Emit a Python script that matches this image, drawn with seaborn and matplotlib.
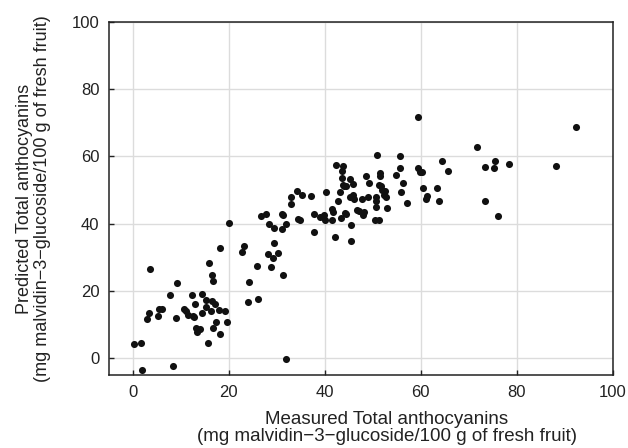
import matplotlib
matplotlib.use('Agg')
import matplotlib.pyplot as plt
import seaborn as sns
import pandas as pd

# measured vs predicted total anthocyanins
measured = [0.25, 1.7, 1.9, 3.6, 3.3, 3.0, 5.3, 5.5, 6.2, 7.7, 8.5, 9.0, 9.3, 10.7, 11.2, 11.5,
            12.3, 12.5, 12.7, 12.9, 13.2, 13.3, 14.0, 14.5, 14.5, 15.2, 15.3, 15.7, 15.9, 16.3,
            16.5, 16.6, 16.75, 16.75, 17.1, 17.3, 17.9, 18.1, 18.2, 19.25, 19.6, 20.1, 22.75, 23.1,
            24.0, 24.25, 25.9, 26.2, 26.7, 27.8, 28.2, 28.4, 28.9, 29.25, 29.5, 29.5, 30.3, 31.1,
            31.1, 31.4, 31.4, 31.9, 31.9, 33.0, 33.0, 34.2, 34.5, 34.75, 35.25, 37.2, 37.75, 37.75,
            39.1, 39.8, 40.1, 40.25, 41.5, 41.6, 41.8, 42.2, 42.4, 42.75, 43.2, 43.3, 43.5, 43.6,
            43.8, 43.75, 44.1, 44.2, 44.4, 44.5, 45.2, 45.2, 45.5, 45.5, 45.8, 45.8, 46.0, 46.7,
            47.2, 47.7, 48.0, 48.2, 48.5, 49.0, 49.3, 50.4, 50.6, 50.7, 50.7, 50.9, 51.2, 51.3,
            51.4, 51.5, 51.7, 52.0, 52.3, 52.5, 52.7, 52.9, 54.8, 55.6, 55.7, 55.9, 56.2, 57.2,
            59.5, 59.5, 59.8, 60.3, 60.4, 61.0, 61.2, 63.3, 63.7, 64.5, 65.7, 71.7, 73.3, 73.3,
            75.2, 75.5, 76.1, 78.3, 88.25, 92.3]
predicted = [4.2, 4.5, -3.4, 26.6, 13.5, 11.6, 12.4, 14.7, 14.7, 18.7, -2.2, 12.0, 22.3, 14.7, 14.0, 12.7,
             18.7, 12.6, 12.1, 16.0, 9.1, 7.7, 8.8, 19.1, 13.4, 17.2, 15.3, 4.5, 28.2, 13.9,
             17.0, 24.6, 23.0, 8.9, 16.2, 10.9, 14.3, 32.8, 7.3, 14.0, 10.9, 40.3, 31.7, 33.3,
             16.8, 22.7, 27.4, 17.5, 42.2, 43.0, 30.9, 39.9, 27.0, 29.7, 38.7, 34.4, 31.3, 38.4,
             43.0, 42.6, 24.6, -0.1, 39.9, 47.8, 45.9, 49.8, 41.5, 41.0, 48.6, 48.2, 43.0, 37.5,
             42.0, 42.6, 41.0, 49.4, 44.5, 41.0, 43.4, 35.9, 57.6, 46.6, 49.4, 41.8, 53.7, 55.7,
             57.3, 51.5, 51.1, 43.2, 51.3, 42.8, 53.2, 47.8, 34.8, 39.5, 51.7, 48.6, 47.2, 44.2,
             43.8, 47.4, 42.6, 43.4, 54.1, 47.8, 52.1, 41.0, 46.8, 47.8, 45.0, 60.3, 51.5, 41.2,
             54.1, 55.1, 51.3, 50.1, 48.6, 49.6, 47.8, 44.6, 54.5, 60.0, 56.5, 49.4, 52.1, 46.2,
             71.7, 56.7, 55.5, 55.3, 50.5, 47.4, 48.2, 50.5, 46.6, 58.5, 55.7, 62.8, 56.9, 46.6,
             56.5, 58.5, 42.2, 57.7, 57.3, 68.9]

ticks = [0, 20, 40, 60, 80, 100]

df = pd.DataFrame({'measured': measured, 'predicted': predicted})

sns.set_style('whitegrid')
plt.rcParams['font.family'] = ['Liberation Sans', 'DejaVu Sans']

fig = plt.figure(figsize=(6.28, 4.48), dpi=100)
ax = fig.add_axes([0.173, 0.163, 0.803, 0.788])

sns.scatterplot(data=df, x='measured', y='predicted', ax=ax, color='#111111',
                s=26, linewidth=0, zorder=3)

ax.set_xlim(-5, 100)
ax.set_ylim(-5, 100)
ax.set_xticks(ticks)
ax.set_yticks(ticks)
ax.grid(True, color='#dcdcdc', linewidth=1)
for sp in ax.spines.values():
    sp.set_color('#222222')
    sp.set_linewidth(1.1)
ax.tick_params(direction='in', length=3.5, width=1, color='#222222',
               labelsize=12, labelcolor='#222222', left=True, bottom=True)
ax.tick_params(axis='x', pad=7)
ax.tick_params(axis='y', pad=6.5)

ax.set_xlabel('Measured Total anthocyanins\n(mg malvidin\u22123\u2212glucoside/100 g of fresh fruit)',
              fontsize=13.5, color='#222222', linespacing=1.03)
ax.set_ylabel('Predicted Total anthocyanins\n(mg malvidin\u22123\u2212glucoside/100 g of fresh fruit)',
              fontsize=13, color='#222222', linespacing=1.1)
ax.xaxis.set_label_coords(0.551, -0.102, transform=ax.transAxes)
ax.xaxis.label.set_va('top')
ax.yaxis.set_label_coords(-0.114, 0.5, transform=ax.transAxes)

fig.savefig('out.png', dpi=100)
